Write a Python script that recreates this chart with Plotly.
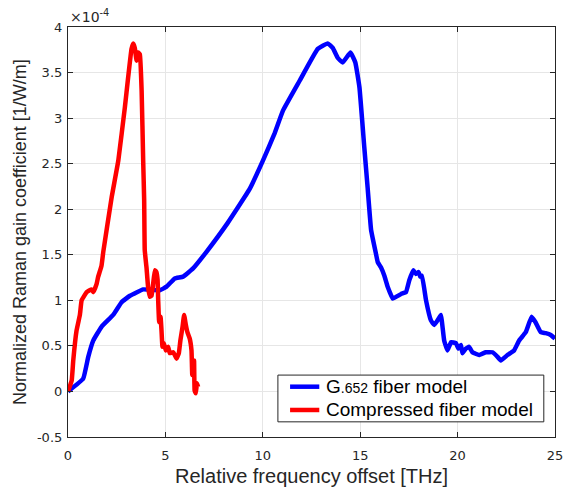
import plotly.graph_objects as go

# G.652 fiber model (x in THz, y in 1e-4 1/W/m)
g652_x = [0, 0.78, 1.04, 1.3, 1.72, 2.32, 2.75, 3.18, 3.86, 4.71, 5.06, 5.48, 5.91, 6.42, 7.1,
          8.2, 9.32, 10.0, 10.6, 11.03, 11.89, 12.82, 13.33, 13.59, 13.85, 14.1, 14.5, 14.75,
          14.96, 15.21, 15.38, 15.56, 15.81, 15.9, 16.07, 16.24, 16.41, 16.67, 17.1, 17.35,
          17.52, 17.73, 17.86, 18.0, 18.08, 18.17, 18.38, 18.63, 18.8, 18.97, 19.14, 19.31,
          19.48, 19.66, 19.91, 20.05, 20.17, 20.25, 20.42, 20.59, 20.76, 21.1, 21.45, 21.79,
          22.05, 22.22, 22.56, 22.9, 23.16, 23.5, 23.8, 24.0, 24.27, 24.52, 24.78, 25.0]
g652_y = [0, 0.14, 0.38, 0.56, 0.71, 0.84, 0.98, 1.05, 1.12, 1.11, 1.15, 1.24, 1.26, 1.35, 1.53,
          1.85, 2.22, 2.53, 2.83, 3.08, 3.41, 3.76, 3.82, 3.77, 3.66, 3.61, 3.72, 3.61,
          3.34, 2.68, 2.24, 1.77, 1.51, 1.42, 1.36, 1.27, 1.15, 1.02, 1.07, 1.09,
          1.22, 1.33, 1.29, 1.31, 1.26, 1.27, 1.0, 0.78, 0.73, 0.78, 0.84, 0.56,
          0.45, 0.54, 0.53, 0.47, 0.51, 0.42, 0.47, 0.49, 0.43, 0.40, 0.43, 0.43,
          0.38, 0.34, 0.40, 0.45, 0.56, 0.65, 0.82, 0.76, 0.65, 0.64, 0.62, 0.58]

# Compressed fiber model
comp_x = [0, 0.19, 0.27, 0.44, 0.61, 0.70, 0.96, 1.21, 1.3, 1.47, 1.55, 1.72, 1.81, 2.24, 2.58,
          2.92, 3.09, 3.26, 3.35, 3.43, 3.52, 3.6, 3.69, 3.78, 3.86, 3.91, 3.94, 4.03, 4.11,
          4.2, 4.29, 4.37, 4.46, 4.54, 4.6, 4.63, 4.68, 4.75, 4.8, 4.85, 4.92, 5.02, 5.14,
          5.23, 5.4, 5.48, 5.57, 5.69, 5.77, 5.88, 5.96, 6.05, 6.13, 6.25, 6.34, 6.38, 6.47,
          6.5, 6.56, 6.62, 6.68]
comp_y = [0, 0.12, 0.34, 0.67, 0.84, 1.0, 1.09, 1.12, 1.09, 1.18, 1.26, 1.38, 1.53, 2.13, 2.53,
          3.12, 3.45, 3.76, 3.82, 3.77, 3.63, 3.72, 3.70, 3.30, 2.53, 2.1, 1.55, 1.36, 1.15,
          1.04, 1.05, 1.18, 1.33, 1.31, 1.22, 1.0, 0.76, 0.82, 0.67, 0.49, 0.53, 0.45, 0.49,
          0.42, 0.43, 0.40, 0.36, 0.42, 0.56, 0.71, 0.84, 0.73, 0.65, 0.58, 0.45, 0.18, 0.34,
          0.01, -0.02, 0.09, 0.05]

x_ticks = [0, 5, 10, 15, 20, 25]
y_ticks = [-0.5, 0, 0.5, 1, 1.5, 2, 2.5, 3, 3.5, 4]
y_labels = ["-0.5", "0", "0.5", "1", "1.5", "2", "2.5", "3", "3.5", "4"]

series_names = ["G<span style='font-size:14px'>.652</span> fiber model", "Compressed fiber model"]
series_colors = ["#0000ff", "#ff0000"]

FONT = "Liberation Sans, Arial, sans-serif"
TICKFONT = "DejaVu Sans, sans-serif"

fig = go.Figure()
fig.add_trace(go.Scatter(x=g652_x, y=g652_y, mode="lines", showlegend=False,
                         line=dict(color=series_colors[0], width=4.5, shape="spline", smoothing=0.3),
                         name=series_names[0]))
fig.add_trace(go.Scatter(x=comp_x, y=comp_y, mode="lines", showlegend=False,
                         line=dict(color=series_colors[1], width=4.5, shape="spline", smoothing=0.3),
                         name=series_names[1]))

axis_common = dict(showline=True, linecolor="#262626", linewidth=1.2, mirror="ticks",
                   ticks="inside", ticklen=5, tickcolor="#262626", automargin=False,
                   ticklabeloverflow="allow",
                   showgrid=True, gridcolor="#e6e6e6", gridwidth=1, zeroline=False,
                   tickfont=dict(family=TICKFONT, size=13, color="#262626"))

fig.update_layout(
    width=564, height=487,
    margin=dict(l=68, r=9, t=27, b=50),
    paper_bgcolor="white", plot_bgcolor="white",
    font=dict(family=FONT, color="#262626"),
    xaxis=dict(range=[0, 25], tickvals=x_ticks, ticklabelstandoff=6, **axis_common),
    yaxis=dict(range=[-0.5, 4], tickvals=y_ticks, ticktext=y_labels, ticklabelstandoff=2,
               **axis_common),
    showlegend=False,
)

# Legend box (drawn manually to match the compact reference layout)
fig.add_shape(type="rect", xref="paper", yref="paper", x0=0.431, x1=0.977, y0=0.037, y1=0.151,
              line=dict(color="#262626", width=1), fillcolor="white", layer="above")
row_y = [0.1227, 0.0659]
for name, color, ry in zip(series_names, series_colors, row_y):
    fig.add_shape(type="line", xref="paper", yref="paper", x0=0.456, x1=0.516, y0=ry, y1=ry,
                  line=dict(color=color, width=4.5), layer="above")
    fig.add_annotation(x=0.525, y=ry, xref="paper", yref="paper", xanchor="left",
                       yanchor="middle", text=name, showarrow=False,
                       font=dict(family=FONT, size=19, color="black"))

fig.add_annotation(x=0, y=1, xref="paper", yref="paper", xanchor="left", yanchor="bottom",
                   text="×10<sup>-4</sup>", showarrow=False, yshift=0,
                   font=dict(family=TICKFONT, size=14, color="#262626"))
fig.add_annotation(x=0.5, y=0, xref="paper", yref="paper", xanchor="center", yanchor="middle",
                   text="Relative frequency offset [THz]", showarrow=False, yshift=-39,
                   font=dict(family=FONT, size=20, color="#262626"))
fig.add_annotation(x=0, y=0.5, xref="paper", yref="paper", xanchor="center", yanchor="middle",
                   text="Normalized Raman gain coefficient [1/W/m]", showarrow=False,
                   xshift=-48, textangle=-90,
                   font=dict(family=FONT, size=18, color="#262626"))

fig.write_html("out.html")
